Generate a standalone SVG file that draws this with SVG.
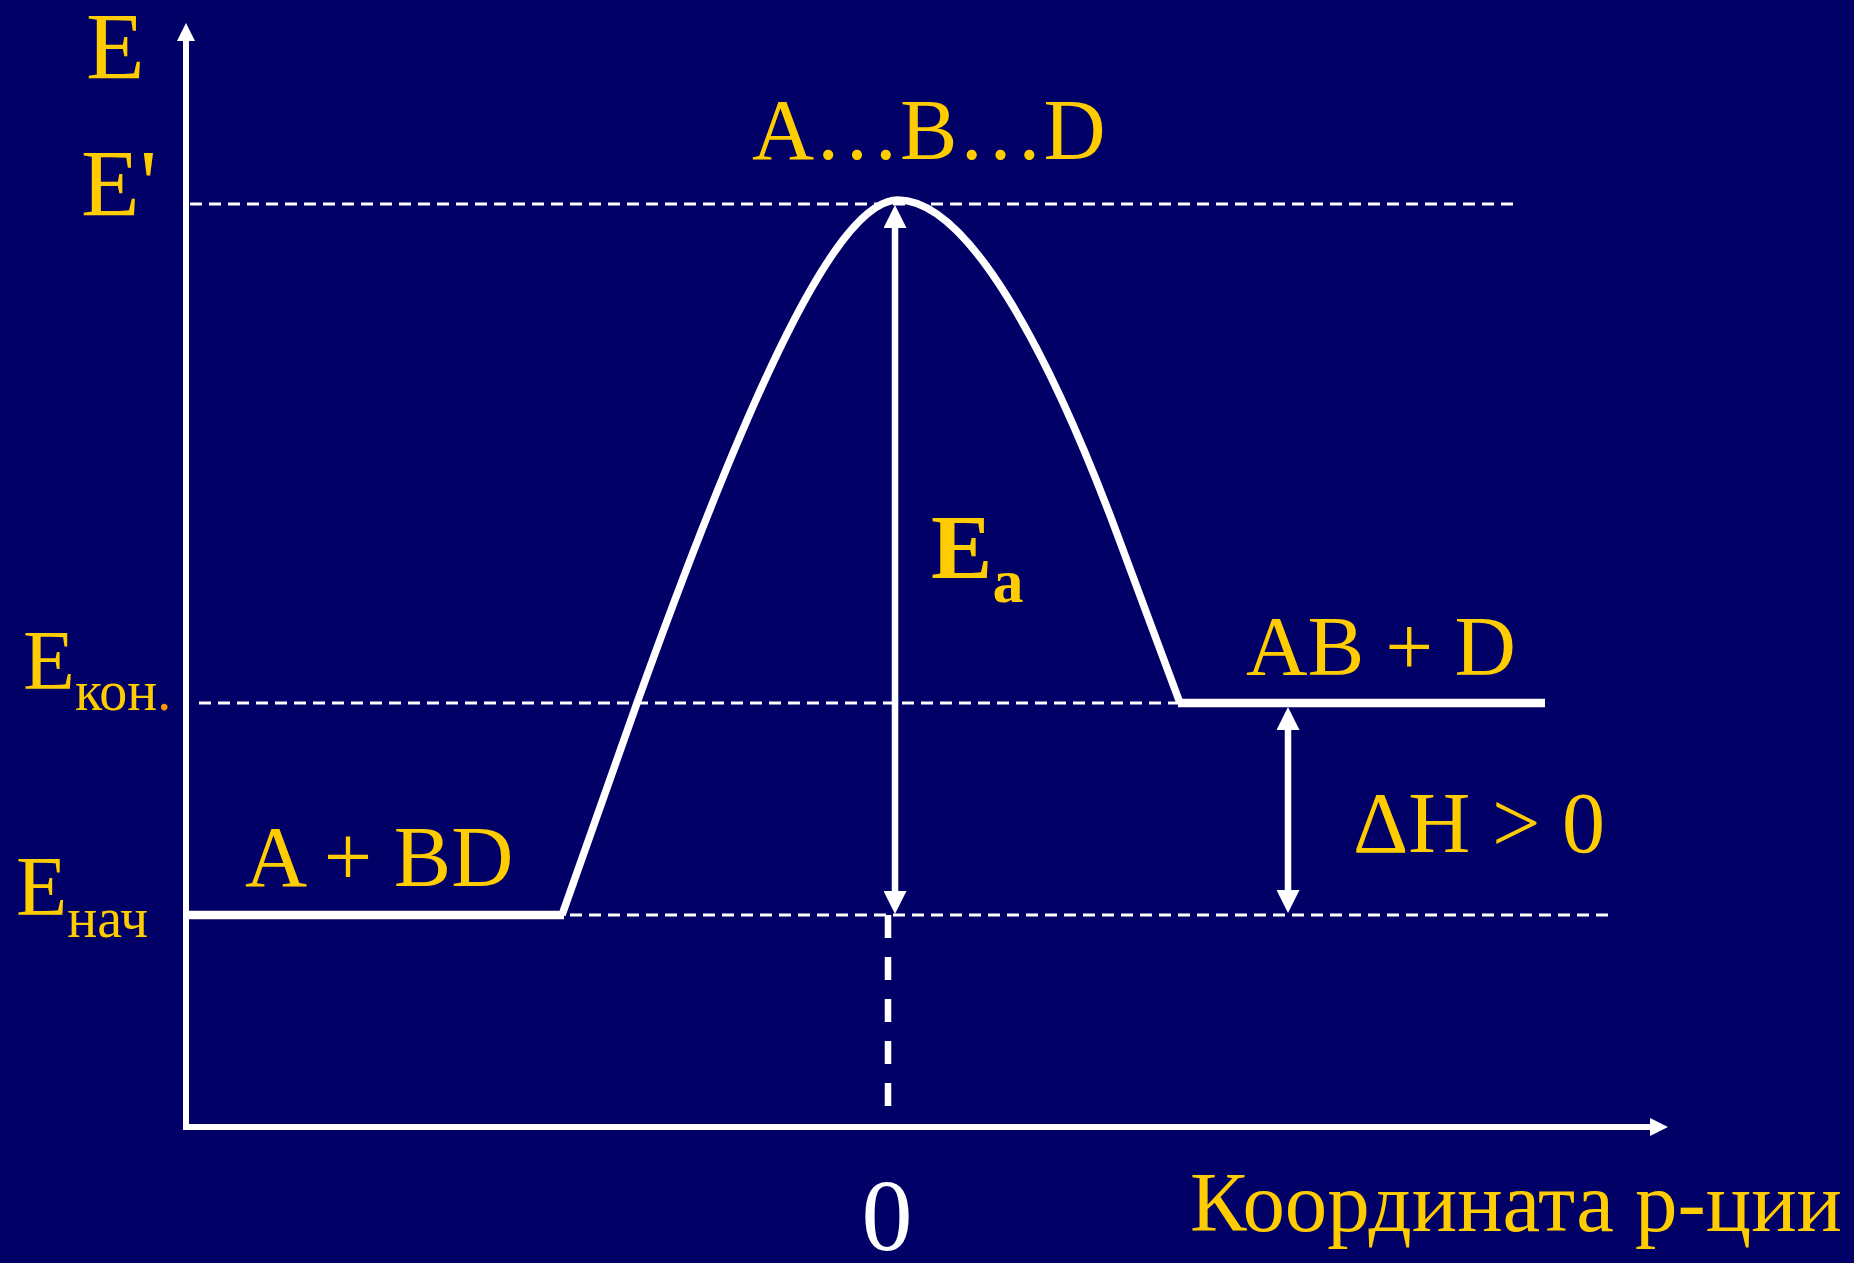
<svg xmlns="http://www.w3.org/2000/svg" width="1854" height="1263" viewBox="0 0 1854 1263">
  <defs>
    <style>
      .lbl { font-family: "Liberation Serif", "Times New Roman", serif; fill: #FFCC00; }
      .dash { stroke: #FFFFFF; stroke-width: 3; stroke-dasharray: 12 7; fill: none; }
      .solid { stroke: #FFFFFF; fill: none; }
    </style>
    <marker id="headBig" markerUnits="userSpaceOnUse" viewBox="0 0 23 23" markerWidth="23" markerHeight="23" refX="0" refY="11.5" orient="auto-start-reverse">
      <path d="M0,0 L23,11.5 L0,23 z" fill="#FFFFFF"/>
    </marker>
    <marker id="headAxis" markerUnits="userSpaceOnUse" viewBox="0 0 18 18" markerWidth="18" markerHeight="18" refX="0" refY="9" orient="auto">
      <path d="M0,0 L18,9 L0,18 z" fill="#FFFFFF"/>
    </marker>
  </defs>

  <rect x="0" y="0" width="1854" height="1263" fill="#000066"/>

  <g id="connectors">
    <!-- axes -->
    <line id="y-axis" class="solid" x1="186" y1="1130" x2="186" y2="41" stroke-width="6" marker-end="url(#headAxis)"/>
    <line id="x-axis" class="solid" x1="183" y1="1127" x2="1650" y2="1127" stroke-width="6" marker-end="url(#headAxis)"/>
    <!-- guide dashed lines -->
    <line class="dash" x1="190" y1="204" x2="1516" y2="204"/>
    <line class="dash" x1="199" y1="703" x2="1178" y2="703"/>
    <line class="dash" x1="570" y1="915" x2="1608" y2="915"/>
    <line x1="888" y1="915" x2="888" y2="1108" stroke="#FFFFFF" stroke-width="6.5" stroke-dasharray="23 19"/>
    <!-- energy profile -->
    <path id="profile" class="solid" stroke-width="7.5" stroke-linejoin="round"
      d="M562,915 L637,703 C752,383.5 838,200 898,200 C968,200 1048,351 1113,523 L1180,703"/>
    <line class="solid" x1="186" y1="915" x2="564" y2="915" stroke-width="8.5"/>
    <line class="solid" x1="1178" y1="703" x2="1545" y2="703" stroke-width="8.5"/>
    <!-- Ea arrow -->
    <line id="ea-arrow" class="solid" x1="895" y1="228" x2="895" y2="891" stroke-width="6.5" marker-start="url(#headBig)" marker-end="url(#headBig)"/>
    <!-- dH arrow -->
    <line id="dh-arrow" class="solid" x1="1288" y1="730" x2="1288" y2="890" stroke-width="6.5" marker-start="url(#headBig)" marker-end="url(#headBig)"/>
  </g>

  <g id="axis-labels">
    <text class="lbl" x="86" y="79" font-size="96">E</text>
    <text class="lbl" x="81" y="216" font-size="96">E'</text>
    <text class="lbl" x="23" y="689" font-size="85">E<tspan font-size="56" y="710">кон</tspan><tspan font-size="56" y="710" fill="#FF9900">.</tspan></text>
    <text class="lbl" x="16" y="915" font-size="84">E<tspan font-size="56" y="937">нач</tspan></text>
  </g>

  <g id="node-transition">
    <text class="lbl" x="752" y="159" font-size="86">A…B…D</text>
  </g>
  <g id="node-reactants">
    <text class="lbl" x="245" y="886" font-size="86">A + BD</text>
  </g>
  <g id="node-products">
    <text class="lbl" x="1246" y="675" font-size="85">AB + D</text>
  </g>
  <g id="label-ea">
    <text class="lbl" x="931" y="578" font-size="92" font-weight="bold">E<tspan font-size="62" y="602">a</tspan></text>
  </g>
  <g id="label-dh">
    <text class="lbl" x="1353" y="852" font-size="86">ΔH &gt; 0</text>
  </g>
  <g id="label-zero">
    <text x="887" y="1250" font-size="102" text-anchor="middle" fill="#FFFFFF" font-family="Liberation Serif, Times New Roman, serif">0</text>
  </g>
  <g id="label-coord">
    <text class="lbl" x="1190" y="1231" font-size="84" textLength="652" lengthAdjust="spacingAndGlyphs">Координата р-ции</text>
  </g>
</svg>
